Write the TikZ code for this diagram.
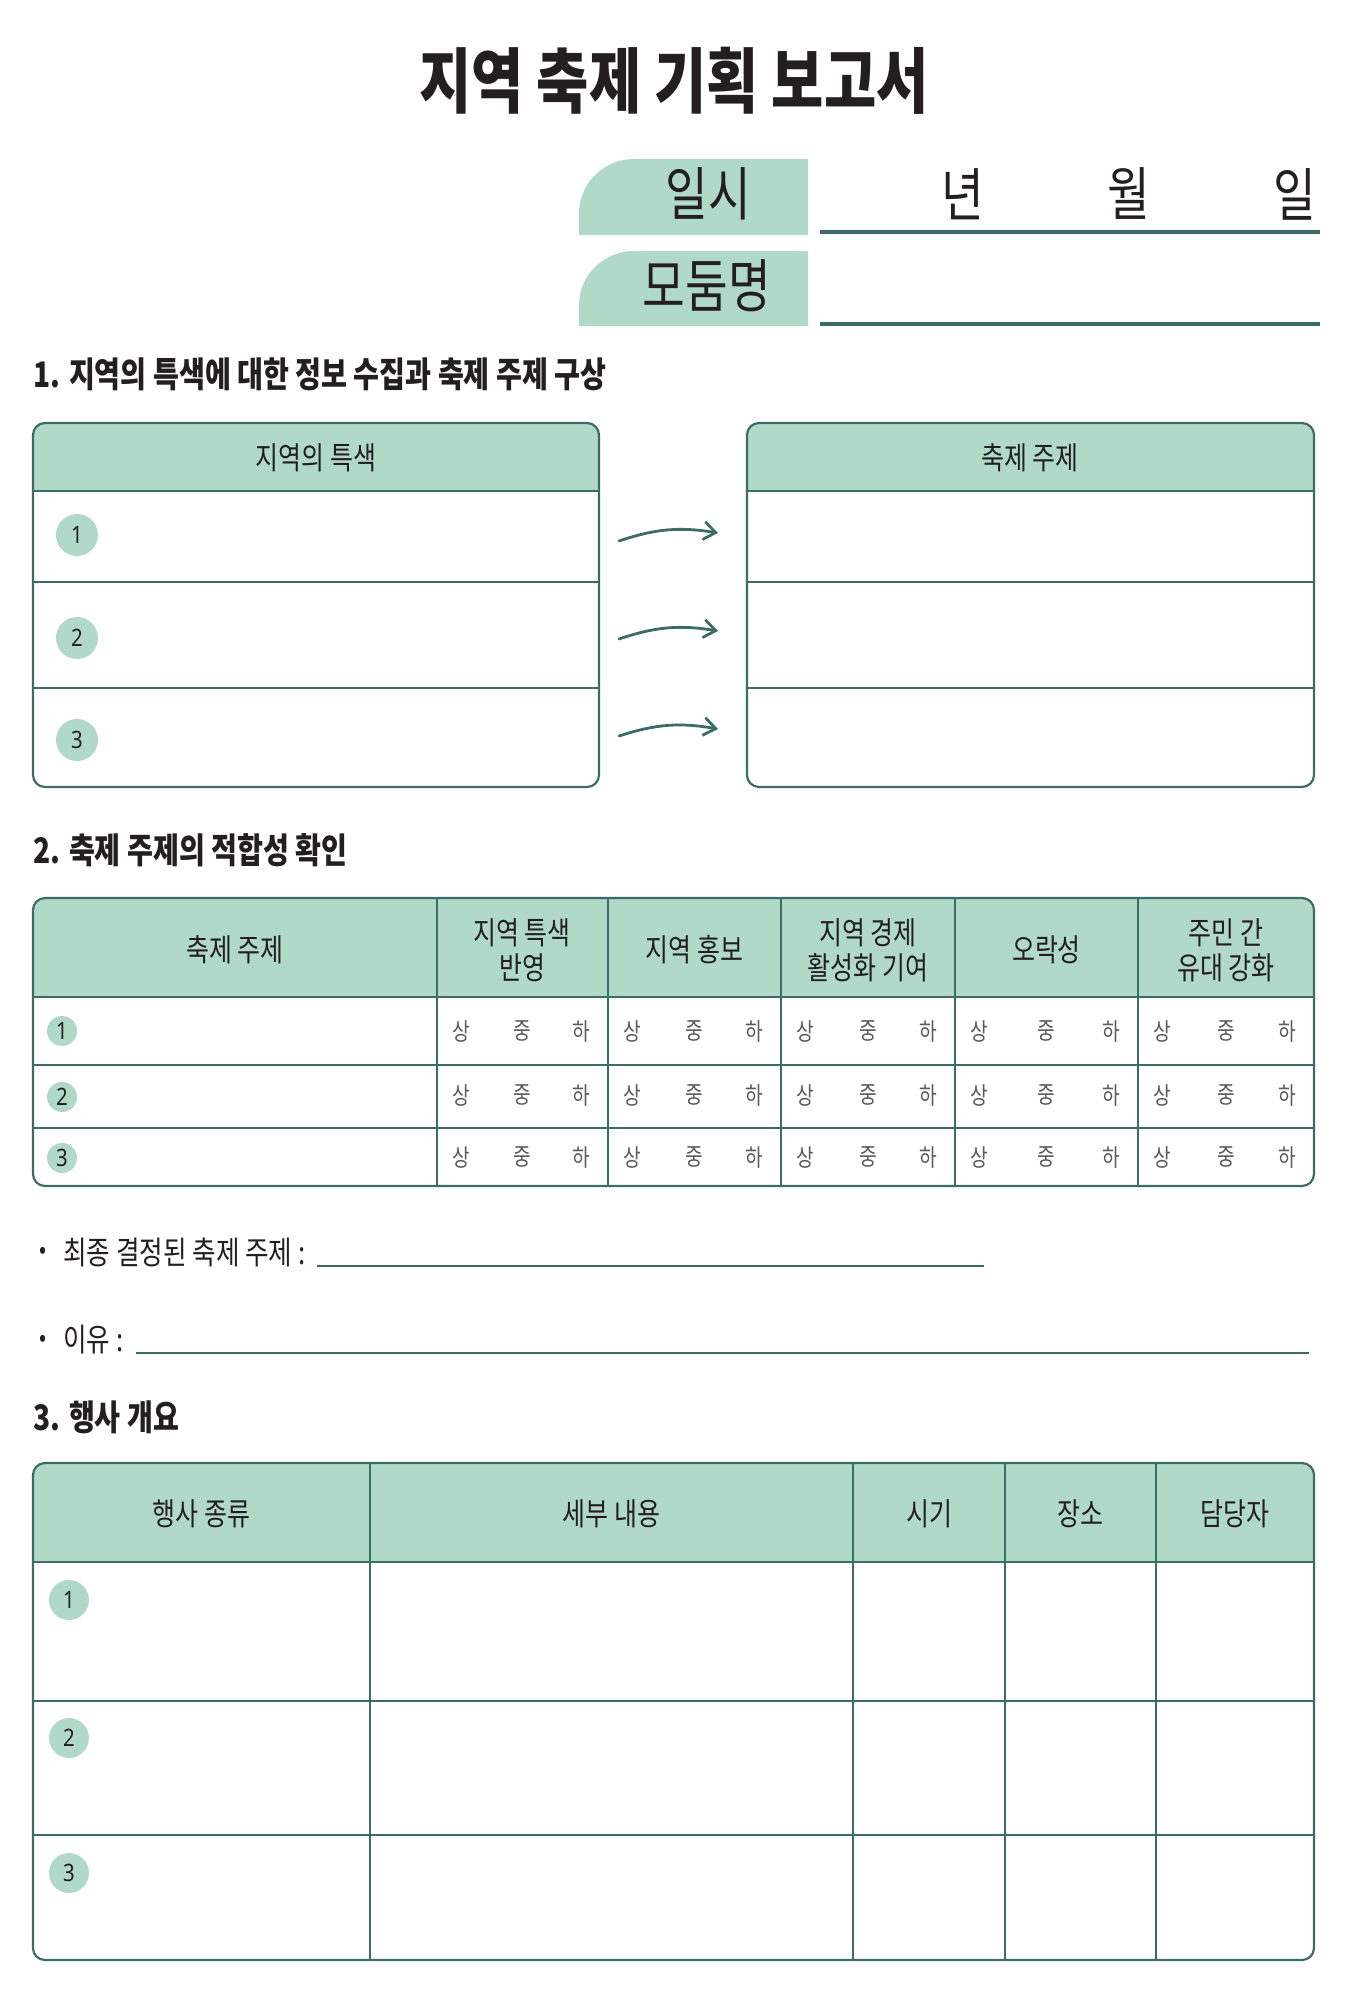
\documentclass[tikz,border=0pt]{standalone}
\usepackage{fontspec}
\newfontfamily\kr[FakeStretch=0.8]{Noto Sans CJK KR}
\newfontfamily\numf[FakeStretch=0.85]{Noto Sans}
\usetikzlibrary{arrows.meta}
\definecolor{mint}{HTML}{B0D9C8}
\definecolor{linec}{HTML}{3D6B66}
\definecolor{ink}{HTML}{231F20}
\definecolor{softgray}{HTML}{5A5A5A}
\begin{document}
\begin{tikzpicture}[x=0.5pt,y=-0.5pt,
  every node/.style={inner sep=0pt, text=ink},
  titlefont/.style={font=\kr\bfseries\fontsize{35.5pt}{38pt}\selectfont},
  secfont/.style={font=\kr\bfseries\fontsize{17.6pt}{21pt}\selectfont, anchor=west},
  datefont/.style={font=\kr\fontsize{29pt}{32pt}\selectfont},
  hdrtext/.style={font=\kr\fontsize{15.6pt}{17.5pt}\selectfont, align=center},
  bodytext/.style={font=\kr\fontsize{16pt}{19pt}\selectfont, anchor=west},
  gradetext/.style={font=\kr\fontsize{12pt}{14pt}\selectfont, text=softgray},
  numc/.style={circle, fill=mint, font=\numf\fontsize{12pt}{14pt}\selectfont},
  frame/.style={draw=linec, line width=1.1pt, rounded corners=6pt},
  gridline/.style={draw=linec, line width=0.8pt},
  uline/.style={draw=linec, line width=2pt},
  fillline/.style={draw=linec, line width=1.2pt},
  arr/.style={draw=linec, line width=1.4pt, line cap=round, -{Straight Barb[length=6pt,width=9pt,line width=1.4pt]}},
]
\useasboundingbox (0,0) rectangle (1350,1991);

% Title
\node[titlefont] (title) at (674,81) {지역 축제 기획 보고서};

% Date / group
\fill[mint] (808,159) -- (634,159) .. controls (604,159) and (579,183) .. (579,213) -- (579,235) -- (808,235) -- cycle;
\fill[mint] (808,251) -- (634,251) .. controls (604,251) and (579,275) .. (579,305) -- (579,326) -- (808,326) -- cycle;
\node[datefont] (ilsi) at (708,194) {일시};
\node[datefont] (modum) at (707,286) {모둠명};
\node[datefont] (nyeon) at (963,194) {년};
\node[datefont] (wol) at (1129,194) {월};
\node[datefont] (il) at (1295,194) {일};
\draw[uline] (820,232) -- (1320,232);
\draw[uline] (820,324) -- (1320,324);

% Section 1
\node[secfont] (h1) at (33,374) {1. 지역의 특색에 대한 정보 수집과 축제 주제 구상};

\begin{scope}
\clip[rounded corners=6pt] (33,423) rectangle (599,787);
\fill[mint] (33,423) rectangle (599,491);
\end{scope}
\draw[gridline] (33,491) -- (599,491) (33,582) -- (599,582) (33,688) -- (599,688);
\draw[frame] (33,423) rectangle (599,787);
\node[hdrtext] (lbA) at (316,458) {지역의 특색};
\node[numc, minimum size=21pt] (a1) at (77,535) {1};
\node[numc, minimum size=21pt] (a2) at (77,638) {2};
\node[numc, minimum size=21pt] (a3) at (77,740) {3};

\begin{scope}
\clip[rounded corners=6pt] (747,423) rectangle (1314,787);
\fill[mint] (747,423) rectangle (1314,491);
\end{scope}
\draw[gridline] (747,491) -- (1314,491) (747,582) -- (1314,582) (747,688) -- (1314,688);
\draw[frame] (747,423) rectangle (1314,787);
\node[hdrtext] (lbB) at (1030,458) {축제 주제};

\coordinate (s1) at (619,541); \coordinate (e1) at (718,533);
\coordinate (s2) at (619,639); \coordinate (e2) at (718,631);
\coordinate (s3) at (619,736); \coordinate (e3) at (718,729);
\draw[arr] (s1) to[bend left=14] (e1);
\draw[arr] (s2) to[bend left=14] (e2);
\draw[arr] (s3) to[bend left=14] (e3);

% Section 2
\node[secfont] (h2) at (33,850) {2. 축제 주제의 적합성 확인};
\begin{scope}
\clip[rounded corners=6pt] (33,898) rectangle (1314,1186);
\fill[mint] (33,898) rectangle (1314,997);
\end{scope}
\draw[gridline] (33,997) -- (1314,997) (33,1065) -- (1314,1065) (33,1128) -- (1314,1128);
\foreach \cx in {437,608,781,955,1138} { \draw[gridline] (\cx,898) -- (\cx,1186); }
\draw[frame] (33,898) rectangle (1314,1186);

\node[hdrtext] (t2h0) at (235,950) {축제 주제};
\node[hdrtext] (t2h1) at (522,950) {지역 특색\\반영};
\node[hdrtext] (t2h2) at (694.5,950) {지역 홍보};
\node[hdrtext] (t2h3) at (868,950) {지역 경제\\활성화 기여};
\node[hdrtext] (t2h4) at (1046.5,950) {오락성};
\node[hdrtext] (t2h5) at (1226,950) {주민 간\\유대 강화};

\node[numc, minimum size=15pt] (b1) at (62,1031) {1};
\node[numc, minimum size=15pt] (b2) at (62,1097) {2};
\node[numc, minimum size=15pt] (b3) at (62,1158) {3};

\foreach \l/\r [count=\ci] in {437/608,608/781,781/955,955/1138,1138/1314} {
  \foreach \ry [count=\ri] in {1031,1095,1157} {
    \node[gradetext] (g\ci-\ri-a) at (\l+24,\ry) {상};
    \node[gradetext] (g\ci-\ri-b) at ({(\l+\r)/2},\ry) {중};
    \node[gradetext] (g\ci-\ri-c) at (\r-27,\ry) {하};
  }
}

\node[font=\kr\fontsize{13pt}{14pt}\selectfont] (bul1) at (43,1253) {•};
\node[bodytext] (fin) at (63,1252) {최종 결정된 축제 주제 :};
\draw[fillline] (317,1266) -- (984,1266);
\node[font=\kr\fontsize{13pt}{14pt}\selectfont] (bul2) at (43,1341) {•};
\node[bodytext] (why) at (63,1340) {이유 :};
\draw[fillline] (136,1353) -- (1309,1353);

% Section 3
\node[secfont] (h3) at (33,1417) {3. 행사 개요};
\begin{scope}
\clip[rounded corners=6pt] (33,1463) rectangle (1314,1960);
\fill[mint] (33,1463) rectangle (1314,1562);
\end{scope}
\draw[gridline] (33,1562) -- (1314,1562) (33,1701) -- (1314,1701) (33,1835) -- (1314,1835);
\foreach \cx in {370,853,1005,1156} { \draw[gridline] (\cx,1463) -- (\cx,1960); }
\draw[frame] (33,1463) rectangle (1314,1960);

\node[hdrtext] (t3h0) at (201.5,1514) {행사 종류};
\node[hdrtext] (t3h1) at (611.5,1514) {세부 내용};
\node[hdrtext] (t3h2) at (929,1514) {시기};
\node[hdrtext] (t3h3) at (1080.5,1514) {장소};
\node[hdrtext] (t3h4) at (1235,1514) {담당자};

\node[numc, minimum size=20pt] (c1) at (69,1600) {1};
\node[numc, minimum size=20pt] (c2) at (69,1738) {2};
\node[numc, minimum size=20pt] (c3) at (69,1873) {3};
\end{tikzpicture}
\end{document}
